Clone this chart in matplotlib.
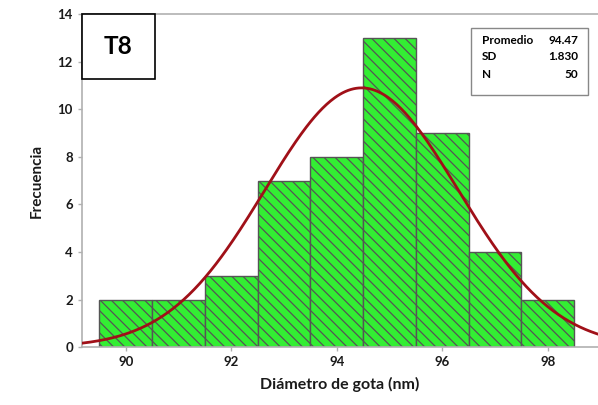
import numpy as np
import matplotlib
matplotlib.use("Agg")
import matplotlib.pyplot as plt
from matplotlib.patches import Rectangle

# Histogram bins (left edges, width 1 nm) and counts
bin_edges = [89.5, 90.5, 91.5, 92.5, 93.5, 94.5, 95.5, 96.5, 97.5, 98.5]
counts = [2, 2, 3, 7, 8, 13, 9, 4, 2]
mean_val = 94.47
sd_val = 1.830
n_val = 50
x_ticks = [90, 92, 94, 96, 98]
y_ticks = [0, 2, 4, 6, 8, 10, 12, 14]

plt.rcParams['font.family'] = ['Lato', 'DejaVu Sans']
plt.rcParams['hatch.color'] = '#505050'
plt.rcParams['hatch.linewidth'] = 0.9

fig = plt.figure(figsize=(5.98, 4.05), dpi=100)
ax = fig.add_axes([0.137, 0.143, 0.863, 0.822])

widths = np.diff(bin_edges)
ax.bar(bin_edges[:-1], counts, width=widths, align='edge',
       color='#33ee33', edgecolor='#555555', linewidth=1.0, hatch='\\\\\\', zorder=2)

# Fitted normal curve scaled to counts
xs = np.linspace(89.0, 99.2, 400)
bw = widths[0]
pdf = n_val * bw / (sd_val * np.sqrt(2 * np.pi)) * np.exp(-0.5 * ((xs - mean_val) / sd_val) ** 2)
ax.plot(xs, pdf, color='#a01018', linewidth=2.0, zorder=3)

ax.set_xlim(89.17, 98.95)
ax.set_ylim(0, 14)
ax.set_xticks(x_ticks)
ax.set_yticks(y_ticks)
for s in ['left', 'bottom', 'top']:
    ax.spines[s].set_color('#b0b0b0')
    ax.spines[s].set_linewidth(1.2)
ax.spines['right'].set_visible(False)
ax.tick_params(axis='both', colors='#b0b0b0', labelcolor='#1a1a1a', length=3,
               width=1, labelsize=9.5)
for lbl in ax.get_xticklabels() + ax.get_yticklabels():
    lbl.set_fontweight('bold')

ax.set_xlabel('Diámetro de gota (nm)', fontsize=11.5, fontweight='bold', color='#1a1a1a', labelpad=6)
ax.set_ylabel('Frecuencia', fontsize=11, fontweight='bold', color='#1a1a1a', labelpad=10)

# Label box in the upper-left corner
fig.patches.append(Rectangle((82 / 598, 1 - 79 / 405), 73 / 598, 65 / 405,
                             transform=fig.transFigure, facecolor='white',
                             edgecolor='black', linewidth=1.2, zorder=5))
fig.text(118.5 / 598, 1 - 47 / 405, 'T8', fontsize=17.5, fontweight='bold',
         ha='center', va='center', zorder=6)

# Summary statistics box
fig.patches.append(Rectangle((471 / 598, 1 - 95 / 405), 117 / 598, 67 / 405,
                             transform=fig.transFigure, facecolor='white',
                             edgecolor='#888888', linewidth=1.0, zorder=5))
rows = [('Promedio', f'{mean_val:.2f}'), ('SD', f'{sd_val:.3f}'), ('N', f'{n_val}')]
for i, (k, v) in enumerate(rows):
    y = 1 - (40 + i * 17) / 405
    fig.text(482 / 598, y, k, fontsize=8.5, fontweight='bold', ha='left', va='center', zorder=6)
    fig.text(578 / 598, y, v, fontsize=8.5, fontweight='bold', ha='right', va='center', zorder=6)

fig.savefig('out.png', dpi=100)
